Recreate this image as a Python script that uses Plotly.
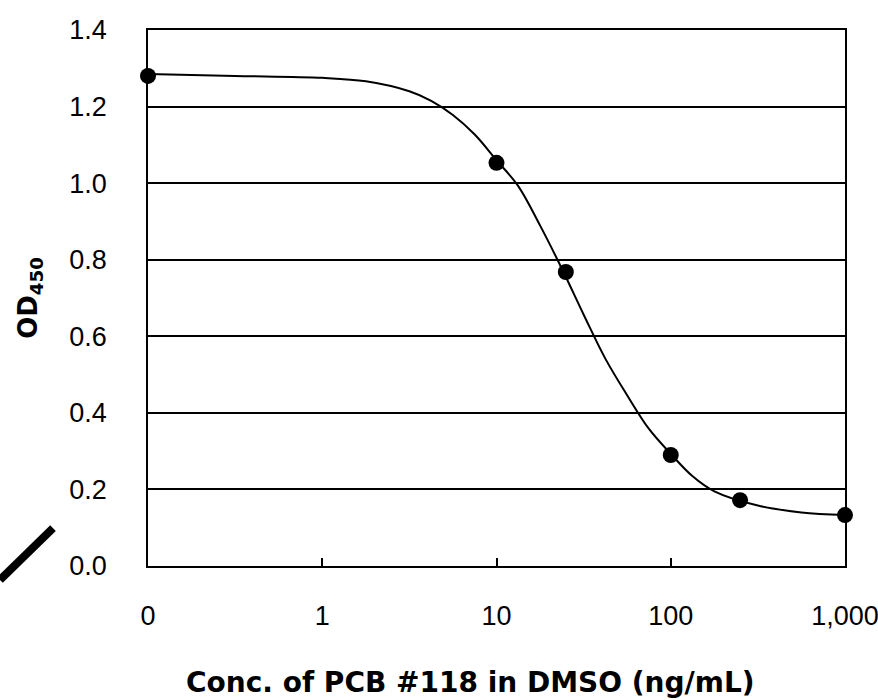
import plotly.graph_objects as go

# Tick labels on the log concentration axis ("0" is drawn at the 0.1 position)
tick_vals = [0.1, 1, 10, 100, 1000]
tick_text = ["0", "1", "10", "100", "1,000"]
y_ticks = [0, 0.2, 0.4, 0.6, 0.8, 1.0, 1.2, 1.4]

# Measured points: concentration (ng/mL) and OD450
conc = [0, 10, 25, 100, 250, 1000]
od450 = [1.28, 1.053, 0.768, 0.29, 0.172, 0.133]

# Fitted curve
curve_conc = [0.1, 0.316, 1, 1.78, 3.16, 4.22, 5.62, 7.5, 10, 13.3, 17.8, 23.7, 31.6,
              42.2, 56.2, 75, 100, 133, 178, 316, 562, 1000]
curve_od = [1.285, 1.280, 1.275, 1.266, 1.240, 1.215, 1.178, 1.127, 1.060, 0.993, 0.889,
            0.777, 0.657, 0.541, 0.446, 0.358, 0.293, 0.235, 0.195, 0.158, 0.140, 0.133]

zero_pos = 0.1  # position used for the zero concentration on the log axis
point_x = [c if c > 0 else zero_pos for c in conc]

fig = go.Figure()
fig.add_trace(go.Scatter(x=curve_conc, y=curve_od, mode="lines",
                         line=dict(color="black", width=2, shape="spline", smoothing=1.0),
                         cliponaxis=False, showlegend=False, hoverinfo="skip"))
fig.add_trace(go.Scatter(x=point_x, y=od450, mode="markers",
                         marker=dict(color="black", size=16),
                         cliponaxis=False, showlegend=False))

# scan artifact stroke at lower left
fig.add_shape(type="line", xref="paper", yref="paper",
              x0=-0.2123, y0=-0.026, x1=-0.1363, y1=0.0705,
              line=dict(color="black", width=8))

fig.add_annotation(text="<b>Conc. of PCB #118 in DMSO (ng/mL)</b>",
                   xref="paper", yref="paper", x=0.462, y=-0.218,
                   xanchor="center", yanchor="middle", showarrow=False,
                   font=dict(family="DejaVu Sans, sans-serif", size=28, color="black"))

fig.update_layout(
    width=878, height=700,
    margin=dict(l=148, r=33, t=30, b=134),
    paper_bgcolor="white", plot_bgcolor="white",
    font=dict(family="Liberation Sans, Arial, sans-serif", color="black", size=27),
    xaxis=dict(type="log", range=[-1, 3], tickvals=tick_vals, ticktext=tick_text,
               ticks="inside", ticklen=8, tickwidth=1.5, tickcolor="black",
               showgrid=False, zeroline=False, automargin=False,
               showline=True, linecolor="black", linewidth=1.5, mirror=True,
               ticklabelstandoff=25, ticklabeloverflow="allow",
               tickfont=dict(size=27)),
    yaxis=dict(range=[0, 1.4], tickvals=y_ticks,
               tickformat=".1f", ticks="", automargin=False,
               showgrid=True, gridcolor="black", gridwidth=1.5, zeroline=False,
               showline=True, linecolor="black", linewidth=1.5, mirror=True,
               ticklabelstandoff=34,
               tickfont=dict(size=27),
               title=dict(text="<b>OD<sub>450</sub></b>",
                          font=dict(family="DejaVu Sans, sans-serif", size=26),
                          standoff=24)),
)

fig.write_html("out.html", config={"displayModeBar": False},
               post_script="document.body.style.margin='0';document.body.style.padding='0';")
